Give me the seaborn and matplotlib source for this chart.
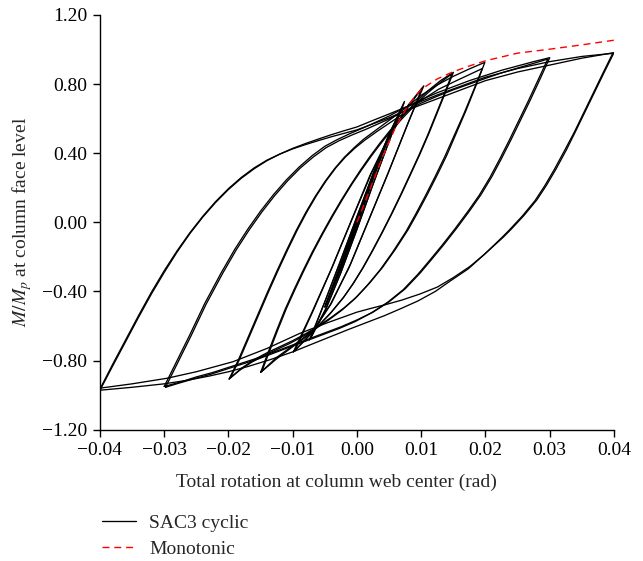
import numpy as np
import pandas as pd
import seaborn as sns
import matplotlib.pyplot as plt
from matplotlib.lines import Line2D
from matplotlib.ticker import FuncFormatter

# Laços de histerese (SAC3 cíclico): carga do pico negativo ao positivo e descarga de volta
loop_04a_x = [-0.040, -0.038, -0.036, -0.034, -0.032, -0.030, -0.028, -0.026, -0.024, -0.022, -0.020, -0.018, -0.016, -0.014, -0.012, -0.010, -0.008, -0.006, -0.004, -0.002, 0.000,
              0.0025, 0.005, 0.0075, 0.010, 0.0125, 0.015, 0.0175, 0.020, 0.025, 0.030, 0.035, 0.040,
              0.0385, 0.037, 0.0355, 0.034, 0.0326, 0.031, 0.0295, 0.028, 0.026, 0.024, 0.0228, 0.020, 0.0176, 0.015, 0.0125, 0.0098, 0.007, 0.0046, 0.002, 0.000,
              -0.0045, -0.0089, -0.014, -0.0193, -0.025, -0.0296, -0.035, -0.040]
loop_04a_y = [-0.965, -0.82, -0.68, -0.54, -0.405, -0.28, -0.165, -0.06, 0.035, 0.12, 0.195, 0.26, 0.315, 0.36, 0.395, 0.425, 0.45, 0.473, 0.495, 0.515, 0.535,
              0.57, 0.605, 0.645, 0.68, 0.715, 0.75, 0.785, 0.82, 0.87, 0.91, 0.95, 0.982,
              0.87, 0.755, 0.64, 0.525, 0.42, 0.31, 0.215, 0.13, 0.04, -0.04, -0.085, -0.18, -0.255, -0.32, -0.375, -0.415, -0.45, -0.475, -0.50, -0.52,
              -0.58, -0.643, -0.73, -0.807, -0.865, -0.903, -0.935, -0.960]
loop_04b_x = [-0.040, -0.038, -0.036, -0.034, -0.032, -0.030, -0.028, -0.026, -0.024, -0.022, -0.020, -0.018, -0.016, -0.014, -0.012, -0.010, -0.008, -0.006, -0.004, -0.002, 0.000,
              0.0025, 0.005, 0.0075, 0.010, 0.0125, 0.015, 0.0175, 0.020, 0.025, 0.030, 0.035, 0.0398,
              0.0383, 0.0368, 0.0353, 0.0338, 0.0323, 0.0307, 0.0292, 0.0277, 0.0257, 0.0237, 0.0225, 0.0197, 0.0173, 0.0147, 0.0122, 0.0095, 0.0068, 0.0043, 0.0015, -0.0013,
              -0.006, -0.010, -0.0135, -0.017, -0.020, -0.023, -0.0265, -0.030, -0.035, -0.040]
loop_04b_y = [-0.972, -0.83, -0.69, -0.55, -0.415, -0.29, -0.172, -0.065, 0.03, 0.115, 0.19, 0.255, 0.31, 0.357, 0.395, 0.428, 0.456, 0.482, 0.507, 0.53, 0.552,
              0.59, 0.627, 0.665, 0.70, 0.737, 0.772, 0.806, 0.84, 0.89, 0.93, 0.96, 0.978,
              0.865, 0.75, 0.635, 0.52, 0.415, 0.305, 0.21, 0.125, 0.035, -0.045, -0.09, -0.19, -0.27, -0.335, -0.40, -0.455, -0.50, -0.54, -0.58, -0.62,
              -0.69, -0.75, -0.795, -0.835, -0.865, -0.89, -0.915, -0.935, -0.955, -0.972]

loop_03a_x = [-0.030, -0.028, -0.026, -0.0237, -0.0211, -0.019, -0.017, -0.015, -0.013, -0.011, -0.009, -0.007, -0.005, -0.003, -0.001, 0.0015, 0.005, 0.0075, 0.010, 0.0125, 0.015, 0.0175, 0.020, 0.0225, 0.025, 0.0275, 0.030,
              0.0285, 0.027, 0.0255, 0.024, 0.0225, 0.021, 0.0193, 0.0175, 0.0155, 0.0135, 0.0115, 0.0098, 0.0075, 0.005, 0.0025, 0.000, -0.0025, -0.005, -0.0075, -0.010, -0.0125, -0.015, -0.0175, -0.020, -0.0225, -0.025, -0.0275, -0.030]
loop_03a_y = [-0.950, -0.80, -0.65, -0.47, -0.29, -0.155, -0.04, 0.065, 0.16, 0.245, 0.32, 0.385, 0.44, 0.48, 0.515, 0.555, 0.615, 0.665, 0.71, 0.75, 0.785, 0.82, 0.85, 0.88, 0.905, 0.93, 0.953,
              0.83, 0.71, 0.595, 0.48, 0.37, 0.265, 0.16, 0.065, -0.035, -0.13, -0.22, -0.295, -0.385, -0.46, -0.52, -0.565, -0.605, -0.64, -0.675, -0.71, -0.745, -0.78, -0.81, -0.84, -0.87, -0.895, -0.925, -0.950]
loop_03b_x = [-0.0298, -0.0278, -0.0258, -0.0235, -0.0209, -0.0188, -0.0168, -0.0148, -0.0128, -0.0108, -0.0088, -0.0068, -0.0048, -0.0028, -0.0008, 0.0015, 0.005, 0.0075, 0.010, 0.0125, 0.015, 0.0175, 0.020, 0.0225, 0.025, 0.0275, 0.0297,
              0.0282, 0.0267, 0.0252, 0.0237, 0.0222, 0.0207, 0.019, 0.0172, 0.0152, 0.0132, 0.0112, 0.0095, 0.0072, 0.0047, 0.0022, -0.0003, -0.0028, -0.0053, -0.0078, -0.0103, -0.0128, -0.0153, -0.0178, -0.0203, -0.0228, -0.0253, -0.0278, -0.0298]
loop_03b_y = [-0.955, -0.805, -0.655, -0.475, -0.295, -0.16, -0.045, 0.06, 0.155, 0.24, 0.315, 0.378, 0.432, 0.472, 0.505, 0.54, 0.598, 0.645, 0.69, 0.73, 0.767, 0.80, 0.833, 0.865, 0.893, 0.92, 0.945,
              0.825, 0.705, 0.59, 0.475, 0.365, 0.26, 0.155, 0.06, -0.04, -0.135, -0.225, -0.30, -0.39, -0.465, -0.525, -0.575, -0.615, -0.65, -0.685, -0.72, -0.755, -0.79, -0.82, -0.85, -0.88, -0.905, -0.932, -0.955]

loop_02a_x = [-0.0199, -0.0185, -0.017, -0.0155, -0.014, -0.0125, -0.011, -0.0095, -0.008, -0.0065, -0.005, -0.0035, -0.002, -0.0005, 0.001, 0.003, 0.005, 0.0075, 0.010, 0.0125, 0.015, 0.0175, 0.0199,
              0.0185, 0.017, 0.0155, 0.014, 0.0125, 0.011, 0.0095, 0.008, 0.006, 0.004, 0.002, 0.000, -0.002, -0.004, -0.006, -0.008, -0.010, -0.012, -0.014, -0.016, -0.018, -0.0199]
loop_02a_y = [-0.907, -0.80, -0.67, -0.54, -0.41, -0.285, -0.165, -0.05, 0.055, 0.15, 0.235, 0.31, 0.375, 0.43, 0.48, 0.535, 0.59, 0.66, 0.735, 0.795, 0.845, 0.888, 0.926,
              0.79, 0.65, 0.52, 0.39, 0.275, 0.165, 0.06, -0.04, -0.155, -0.26, -0.35, -0.43, -0.495, -0.55, -0.60, -0.645, -0.685, -0.72, -0.755, -0.795, -0.845, -0.907]
loop_02b_x = [-0.0197, -0.0183, -0.0168, -0.0153, -0.0138, -0.0123, -0.0108, -0.0093, -0.0078, -0.0063, -0.0048, -0.0033, -0.0018, -0.0003, 0.0012, 0.0032, 0.0052, 0.0077, 0.0102, 0.0127, 0.0152, 0.0175, 0.0195,
              0.0181, 0.0166, 0.0151, 0.0136, 0.0121, 0.0106, 0.0091, 0.0076, 0.0056, 0.0036, 0.0016, -0.0004, -0.0024, -0.0044, -0.0064, -0.0084, -0.0104, -0.0124, -0.0144, -0.0164, -0.0182, -0.0197]
loop_02b_y = [-0.90, -0.795, -0.665, -0.535, -0.405, -0.28, -0.16, -0.045, 0.06, 0.155, 0.24, 0.315, 0.378, 0.43, 0.475, 0.528, 0.578, 0.64, 0.71, 0.77, 0.815, 0.855, 0.89,
              0.76, 0.625, 0.50, 0.375, 0.26, 0.15, 0.045, -0.055, -0.17, -0.275, -0.365, -0.445, -0.51, -0.565, -0.615, -0.66, -0.70, -0.735, -0.77, -0.81, -0.855, -0.90]

loop_015a_x = [-0.015, -0.0138, -0.0125, -0.0112, -0.0098, -0.0084, -0.007, -0.0055, -0.004, -0.0025, -0.001, 0.0005, 0.002, 0.0035, 0.005, 0.007, 0.009, 0.011, 0.013, 0.015,
               0.0138, 0.0125, 0.0112, 0.0098, 0.0085, 0.007, 0.0055, 0.004, 0.0025, 0.001, -0.0005, -0.002, -0.004, -0.006, -0.008, -0.010, -0.0125, -0.015]
loop_015a_y = [-0.869, -0.75, -0.625, -0.505, -0.39, -0.28, -0.175, -0.07, 0.03, 0.125, 0.215, 0.30, 0.38, 0.455, 0.525, 0.61, 0.69, 0.76, 0.82, 0.868,
               0.755, 0.635, 0.515, 0.395, 0.29, 0.17, 0.055, -0.055, -0.16, -0.26, -0.35, -0.43, -0.52, -0.60, -0.665, -0.72, -0.79, -0.869]
loop_015b_x = [-0.0148, -0.0136, -0.0123, -0.011, -0.0096, -0.0082, -0.0068, -0.0053, -0.0038, -0.0023, -0.0008, 0.0007, 0.0022, 0.0037, 0.0052, 0.0072, 0.0092, 0.0111, 0.013, 0.0148,
               0.0136, 0.0123, 0.011, 0.0096, 0.0083, 0.0068, 0.0053, 0.0038, 0.0023, 0.0008, -0.0007, -0.0022, -0.0042, -0.0062, -0.0082, -0.0102, -0.0126, -0.0148]
loop_015b_y = [-0.862, -0.745, -0.62, -0.50, -0.385, -0.275, -0.17, -0.065, 0.035, 0.13, 0.22, 0.303, 0.382, 0.456, 0.525, 0.607, 0.685, 0.752, 0.81, 0.86,
               0.745, 0.625, 0.505, 0.385, 0.28, 0.16, 0.045, -0.065, -0.17, -0.27, -0.36, -0.44, -0.53, -0.605, -0.665, -0.72, -0.785, -0.862]

loop_01a_x = [-0.0099, -0.007, -0.004, -0.001, 0.002, 0.005, 0.008, 0.0104,
              0.008, 0.005, 0.002, -0.001, -0.004, -0.007, -0.0099]
loop_01a_y = [-0.75, -0.52, -0.27, 0.0, 0.27, 0.50, 0.68, 0.79,
              0.58, 0.30, 0.03, -0.24, -0.47, -0.64, -0.75]
loop_01b_x = [-0.0097, -0.0068, -0.0038, -0.0008, 0.0022, 0.0052, 0.0081, 0.0101,
              0.0078, 0.0048, 0.0018, -0.0012, -0.0042, -0.0072, -0.0097]
loop_01b_y = [-0.745, -0.51, -0.255, 0.015, 0.28, 0.505, 0.675, 0.775,
              0.56, 0.28, 0.01, -0.26, -0.48, -0.645, -0.745]

loop_0075a_x = [-0.0074, -0.005, -0.0025, 0.000, 0.0025, 0.005, 0.0074, 0.005, 0.0025, 0.000, -0.0025, -0.005, -0.0074]
loop_0075a_y = [-0.68, -0.46, -0.22, 0.03, 0.28, 0.51, 0.70, 0.47, 0.22, -0.04, -0.29, -0.51, -0.68]
loop_0075b_x = [-0.0072, -0.0049, -0.0024, 0.0001, 0.0026, 0.005, 0.0073, 0.0049, 0.0024, -0.0001, -0.0026, -0.0049, -0.0072]
loop_0075b_y = [-0.67, -0.45, -0.205, 0.045, 0.29, 0.51, 0.69, 0.46, 0.21, -0.05, -0.30, -0.51, -0.67]

loop_005a_x = [-0.005, -0.0025, 0.000, 0.0025, 0.005, 0.0025, 0.000, -0.0025, -0.005]
loop_005a_y = [-0.49, -0.24, 0.02, 0.27, 0.50, 0.25, -0.02, -0.27, -0.49]
loop_005b_x = [-0.0049, -0.0024, 0.0001, 0.0026, 0.0049, 0.0024, -0.0001, -0.0026, -0.0049]
loop_005b_y = [-0.48, -0.23, 0.03, 0.28, 0.49, 0.24, -0.03, -0.28, -0.48]

loop_0375a_x = [-0.0037, -0.0018, 0.000, 0.0018, 0.0037, 0.0018, 0.000, -0.0018, -0.0037]
loop_0375a_y = [-0.37, -0.18, 0.01, 0.20, 0.38, 0.19, -0.01, -0.19, -0.37]
loop_0375b_x = [-0.0036, -0.0017, 0.0001, 0.0019, 0.0036, 0.0017, -0.0001, -0.0019, -0.0036]
loop_0375b_y = [-0.36, -0.17, 0.02, 0.21, 0.37, 0.18, -0.02, -0.20, -0.36]

# Curva monotônica
mono_x = [0.0, 0.002, 0.004, 0.006, 0.008, 0.010, 0.0125, 0.015, 0.0175, 0.020, 0.025, 0.030, 0.035, 0.040]
mono_y = [0.0, 0.19, 0.38, 0.55, 0.68, 0.77, 0.83, 0.872, 0.905, 0.935, 0.979, 1.002, 1.027, 1.054]

x_ticks = [-0.04, -0.03, -0.02, -0.01, 0.00, 0.01, 0.02, 0.03, 0.04]
y_ticks = [-1.20, -0.80, -0.40, 0.00, 0.40, 0.80, 1.20]

loops = [
    (loop_04a_x, loop_04a_y), (loop_04b_x, loop_04b_y),
    (loop_03a_x, loop_03a_y), (loop_03b_x, loop_03b_y),
    (loop_02a_x, loop_02a_y), (loop_02b_x, loop_02b_y),
    (loop_015a_x, loop_015a_y), (loop_015b_x, loop_015b_y),
    (loop_01a_x, loop_01a_y), (loop_01b_x, loop_01b_y),
    (loop_0075a_x, loop_0075a_y), (loop_0075b_x, loop_0075b_y),
    (loop_005a_x, loop_005a_y), (loop_005b_x, loop_005b_y),
    (loop_0375a_x, loop_0375a_y), (loop_0375b_x, loop_0375b_y),
]

sns.set_style("ticks")
plt.rcParams['font.family'] = ['Liberation Serif', 'DejaVu Serif']
plt.rcParams['mathtext.fontset'] = 'stix'

fig = plt.figure(figsize=(6.43, 5.61), dpi=100)
ax = fig.add_axes([0.1555, 0.2342, 0.7994, 0.7391])

# Laços cíclicos
for lx, ly in loops:
    sns.lineplot(x=lx, y=ly, sort=False, estimator=None, color="black", linewidth=0.95, ax=ax)

# Curva monotônica tracejada por cima
sns.lineplot(x=mono_x, y=mono_y, sort=False, estimator=None, color="red", linewidth=1.0,
             linestyle=(0, (5, 3.5)), ax=ax, zorder=5)


def fmt(v, pos):
    if abs(v) < 1e-9:
        v = 0.0
    return f"{v:.2f}".replace("-", "\u2212")


ax.set_xlim(-0.04, 0.04)
ax.set_ylim(-1.2, 1.2)
ax.set_xticks(x_ticks)
ax.set_yticks(y_ticks)
ax.xaxis.set_major_formatter(FuncFormatter(fmt))
ax.yaxis.set_major_formatter(FuncFormatter(fmt))
ax.tick_params(direction="out", length=5, width=1, labelsize=14, colors="black", pad=4)
sns.despine(ax=ax)
for s in ["left", "bottom"]:
    ax.spines[s].set_linewidth(1.0)
    ax.spines[s].set_color("black")

ax.set_ylabel(r"$M/M_p$ at column face level", fontsize=14, labelpad=6)
ax.set_xlabel("")
fig.text(0.524, 0.141, "Total rotation at column web center (rad)", fontsize=14,
         ha="center", va="center")

handles = [Line2D([], [], color="black", linewidth=0.95),
           Line2D([], [], color="red", linewidth=1.0, linestyle=(0, (5, 3.5)))]
if ax.get_legend() is not None:
    ax.get_legend().remove()
fig.legend(handles, ["SAC3 cyclic", "Monotonic"], loc="upper left",
           bbox_to_anchor=(0.158, 0.083), frameon=False, fontsize=14,
           handlelength=1.75, handletextpad=0.7, borderpad=0, borderaxespad=0,
           labelspacing=0.42)

fig.savefig("out.png", dpi=100)
